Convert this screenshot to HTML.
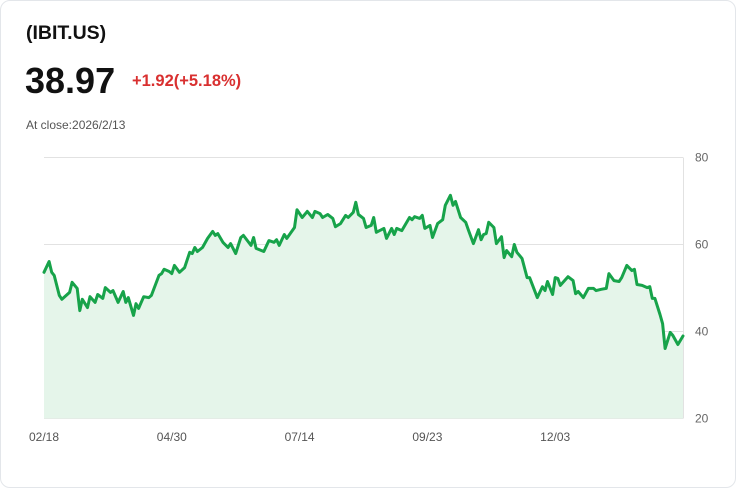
<!DOCTYPE html>
<html><head><meta charset="utf-8"><style>
body{margin:0;background:#fff;font-family:"Liberation Sans",sans-serif;}
.card{position:absolute;left:0;top:0;width:734px;height:486px;border:1px solid #e3e6ea;border-radius:10px;background:#fff;}
.t{position:absolute;color:#111;}
</style></head><body>
<div class="card">
<div class="t" style="left:25px;top:21px;font-size:19.5px;font-weight:bold;">(IBIT.US)</div>
<div class="t" style="left:24px;top:59px;font-size:36px;font-weight:bold;">38.97</div>
<div class="t" style="left:131px;top:71px;font-size:16.5px;font-weight:bold;color:#d93030;">+1.92(+5.18%)</div>
<div class="t" style="left:25px;top:117px;font-size:12px;color:#555;">At close:2026/2/13</div>
<svg id="chart" width="736" height="488" style="position:absolute;left:0;top:0"></svg>
</div>
<script>
const days=[0,2,3,4,6,7,10,11,13,14,15,17,18,20,21,23,24,26,27,29,31,32,33,35,36,37,39,41,42,45,46,47,49,50,51,53,55,57,58,59,60,62,64,66,67,68,70,72,73,75,77,78,81,82,83,86,88,90,91,92,94,95,98,99,101,103,105,106,108,109,111,113,114,116,118,119,121,122,123,125,126,128,129,130,133,134,136,137,138,140,143,144,145,147,148,149,151,152,154,156,157,159,160,161,163,165,166,168,170,171,172,173,174,176,177,179,180,181,183,184,185,187,189,190,193,195,196,197,199,200,201,202,205,207,208,209,211,213,215,216,218,220,221,223,225,226,228,230,231,232,234,236,237,238,239,241,242,243,245,246,248,250];
const prices=[53.6,56.1,53.6,52.9,48.3,47.4,49.0,51.3,49.9,44.8,47.4,45.5,48.0,46.7,48.5,47.6,50.1,49.0,49.4,46.7,49.2,46.7,47.8,43.7,46.4,45.3,48.0,47.8,48.3,52.9,53.3,54.3,53.8,53.3,55.2,53.6,54.7,58.2,57.9,59.3,58.4,59.3,61.4,63.0,62.1,62.5,60.5,59.3,60.2,57.9,61.6,62.1,59.8,61.6,59.1,58.4,60.9,60.5,61.1,59.8,62.3,61.4,63.9,68.0,66.2,67.6,66.2,67.6,67.1,66.2,66.9,66.0,64.1,64.8,66.7,66.2,67.4,69.7,66.9,66.0,63.9,64.4,66.2,62.8,63.7,61.4,63.7,62.3,63.7,63.2,66.2,65.7,66.4,66.0,66.7,63.7,64.4,61.6,64.8,65.7,69.0,71.3,69.0,69.9,66.2,65.1,63.4,60.2,63.4,61.1,62.3,62.5,65.1,63.9,60.2,61.8,57.0,58.6,57.2,60.0,58.2,56.8,52.4,52.4,47.8,50.3,49.4,51.5,48.5,52.4,52.2,50.6,52.6,51.7,48.7,49.2,47.8,49.9,49.9,49.4,49.7,49.9,53.3,51.7,51.5,52.4,55.2,54.0,54.3,50.8,50.6,50.1,50.3,47.6,47.6,43.9,41.8,36.1,39.8,39.1,37.0,38.97];
const yTicks=[80,60,40,20];
const xLabels=["02/18","04/30","07/14","09/23","12/03"];
const xLabelDays=[0,50,100,150,200];
const svg=document.getElementById('chart'),NS='http://www.w3.org/2000/svg';
const X=d=>43+d*(639/250), Y=v=>156.5+(80-v)*(261/60);
function mk(t,a){const e=document.createElementNS(NS,t);for(const k in a)e.setAttribute(k,a[k]);svg.appendChild(e);return e;}
yTicks.forEach(v=>{
 const g=mk('line',{x1:43,x2:682,y1:Y(v),y2:Y(v),stroke:'#e2e2e2','stroke-width':1});
 
 
 const t=mk('text',{x:694,y:Y(v)+4,'font-size':12,fill:'#666','font-family':'Liberation Sans, sans-serif'});
 t.textContent=v;
 
 
});
const ax=mk('line',{x1:682.5,x2:682.5,y1:Y(80),y2:Y(20),stroke:'#e2e2e2'});


let d='';prices.forEach((p,i)=>{d+=(i?'L':'M')+X(days[i]).toFixed(1)+','+Y(p).toFixed(1);});
const area=mk('path',{d:d+'L'+X(days[days.length-1])+','+Y(20)+'L'+X(0)+','+Y(20)+'Z',fill:'#e5f5ea'});


const line=mk('path',{d:d,fill:'none',stroke:'#17a34a','stroke-width':3,'stroke-linejoin':'round','stroke-linecap':'round'});


xLabels.forEach((l,i)=>{
 const t=mk('text',{x:X(xLabelDays[i]),y:440,'font-size':12,fill:'#555','text-anchor':'middle','font-family':'Liberation Sans, sans-serif'});
 t.textContent=l;
 
 
});
</script>
</body></html>
